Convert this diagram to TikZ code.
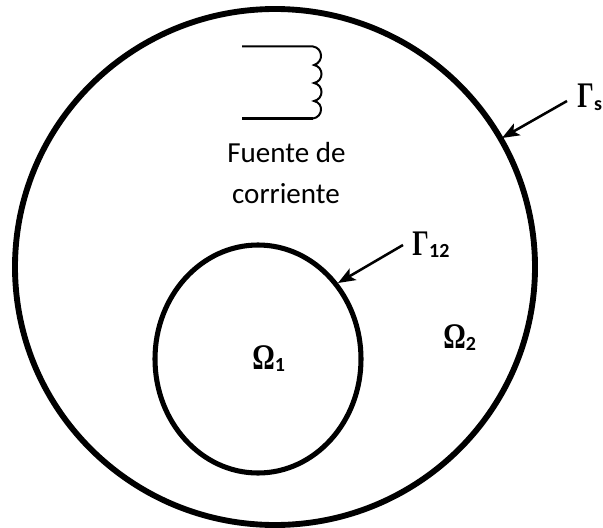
\documentclass[tikz,border=0pt]{standalone}
\usepackage{fontspec}
\usetikzlibrary{arrows.meta}
\setmainfont{Carlito}
\newfontfamily\gamfont[FakeStretch=0.72,BoldFont={Liberation Serif Bold}]{Liberation Serif}
\newfontfamily\omfont[FakeStretch=0.78,BoldFont={Liberation Serif Bold}]{Liberation Serif}
\newcommand{\capgamma}{{\gamfont\bfseries\fontsize{27}{27}\selectfont Γ}}
\newcommand{\capomega}{{\omfont\bfseries\fontsize{27}{27}\selectfont Ω}}
\newcommand{\subsym}[1]{\raisebox{-2.2pt}{\bfseries\fontsize{15}{16}\selectfont #1}}
\tikzset{
  x=0.75pt,y=-0.75pt,
  ring/.style={draw=black},
  lead/.style={draw=black,line width=1.9pt,-{Stealth[length=13pt,width=10pt,inset=3pt]}},
  wire/.style={draw=black,line width=1.5pt},
  caption/.style={inner sep=0pt,font=\fontsize{21.8}{22}\selectfont,anchor=base},
  sym/.style={inner sep=0pt,anchor=base west}
}
\begin{document}
\begin{tikzpicture}
\useasboundingbox (0,0) rectangle (603,528);
\draw[ring,line width=4.4pt] (275,267) ellipse [x radius=260,y radius=258];
\draw[ring,line width=3.8pt] (258,359) ellipse [x radius=103,y radius=114];
\coordinate (tipS) at (502,138);
\coordinate (tip12) at (338,283);
\node[sym] (gs) at (577,108) {\capgamma\kern0.3pt\subsym{s}};
\node[sym] (g12) at (412,255) {\capgamma\kern0.3pt\subsym{12}};
\node[sym] (o1) at (252,369) {\capomega\subsym{1}};
\node[sym] (o2) at (443,348) {\capomega\subsym{2}};
\coordinate (startS) at (567,101);
\coordinate (start12) at (403,245);
\draw[lead] (startS) -- (tipS);
\draw[lead] (start12) -- (tip12);
\node[caption] (cap1) at (286.5,162) {Fuente de};
\node[caption] (cap2) at (286,203) {corriente};
\coordinate (w1) at (242,46.5);
\coordinate (w2) at (242,118.5);
\draw[wire] (w1) -- (313,46.5)
  .. controls (323,48) and (324,62) .. (314,65)
  .. controls (324,67) and (324,81) .. (314,83)
  .. controls (324,85) and (324,99) .. (314,101)
  .. controls (324,103) and (323,117) .. (313,118.5);
\draw[wire,line width=2.2pt] (313,118.5) -- (w2);
\end{tikzpicture}
\end{document}
